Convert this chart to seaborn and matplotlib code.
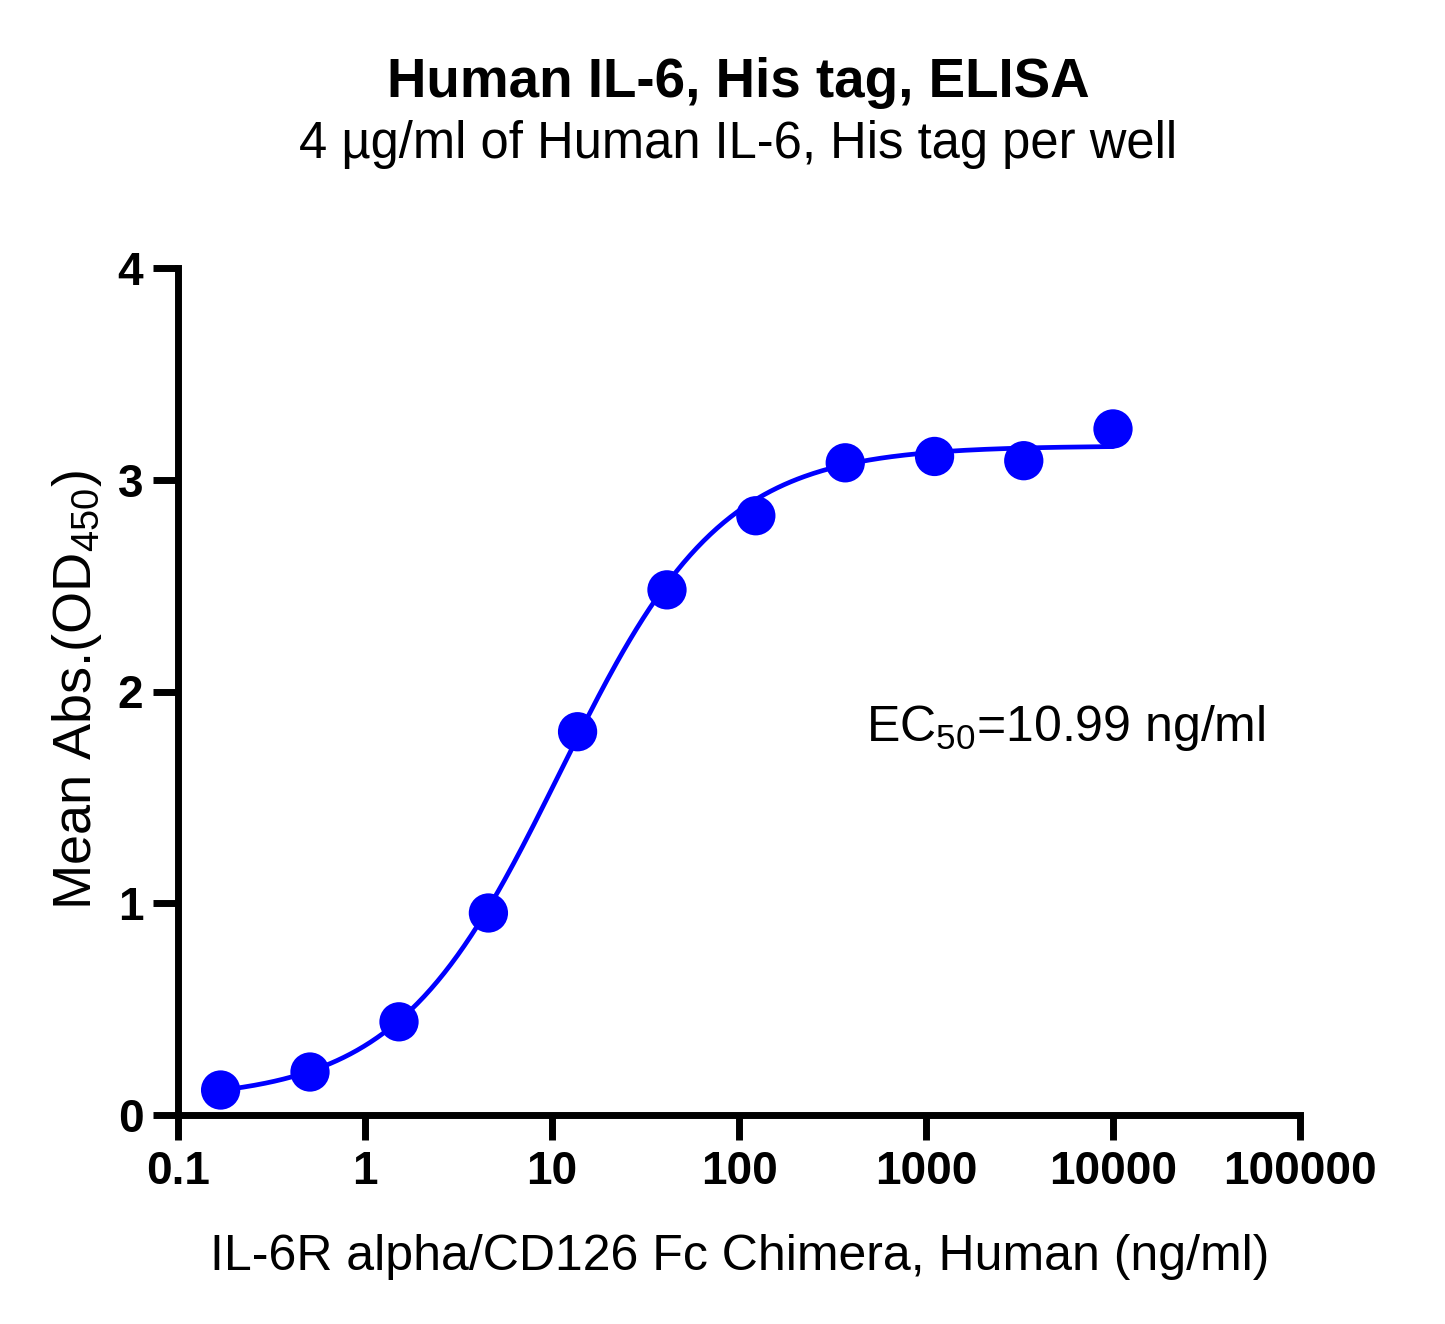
import numpy as np
import pandas as pd
import matplotlib
matplotlib.use("Agg")
import matplotlib.pyplot as plt
import seaborn as sns

# Data
concentration = [0.169, 0.508, 1.52, 4.57, 13.7, 41.2, 123, 370, 1111, 3333, 10000]
mean_abs = [0.118, 0.203, 0.44, 0.954, 1.81, 2.48, 2.83, 3.08, 3.11, 3.09, 3.24]

# 4PL fit parameters
fit_bottom = 0.07
fit_top = 3.16
fit_ec50 = 10.99
fit_hill = 1.0

x_ticks = [0.1, 1, 10, 100, 1000, 10000, 100000]
x_tick_labels = ["0.1", "1", "10", "100", "1000", "10000", "100000"]
y_ticks = [0, 1, 2, 3, 4]

title = "Human IL-6, His tag, ELISA"
subtitle = "4 µg/ml of Human IL-6, His tag per well"
xlabel = "IL-6R alpha/CD126 Fc Chimera, Human (ng/ml)"
ylabel = r"Mean Abs.(OD$_{450}$)"
ec50_text = r"EC$_{50}$=10.99 ng/ml"

sns.set_theme(style="ticks")
plt.rcParams["font.family"] = ["Liberation Sans", "DejaVu Sans"]
plt.rcParams["mathtext.fontset"] = "custom"
plt.rcParams["mathtext.rm"] = "Liberation Sans"
plt.rcParams["mathtext.it"] = "Liberation Sans:italic"
plt.rcParams["mathtext.bf"] = "Liberation Sans:bold"
plt.rcParams["text.color"] = "black"
plt.rcParams["axes.labelcolor"] = "black"
plt.rcParams["xtick.color"] = "black"
plt.rcParams["ytick.color"] = "black"
plt.rcParams["xtick.labelcolor"] = "black"
plt.rcParams["ytick.labelcolor"] = "black"

fig = plt.figure(figsize=(14.45, 13.24), dpi=100)
ax = fig.add_axes([178 / 1445, 1 - 1115 / 1324, (1300 - 178) / 1445, (1115 - 268) / 1324])

df = pd.DataFrame({"conc": concentration, "abs": mean_abs})
xfit = np.logspace(np.log10(concentration[0]), np.log10(concentration[-1]), 400)
yfit = fit_bottom + (fit_top - fit_bottom) / (1 + (fit_ec50 / xfit) ** fit_hill)
dfit = pd.DataFrame({"conc": xfit, "abs": yfit})

sns.lineplot(data=dfit, x="conc", y="abs", ax=ax, color="#0000FF", linewidth=3.4, zorder=2)
sns.scatterplot(data=df, x="conc", y="abs", ax=ax, color="#0000FF", s=800,
                edgecolor="none", linewidth=0, zorder=3, clip_on=False)

ax.set_xscale("log")
ax.set_xlim(0.1, 100000)
ax.set_ylim(0, 4)
ax.set_xticks(x_ticks)
ax.set_xticklabels(x_tick_labels)
ax.xaxis.set_minor_locator(matplotlib.ticker.NullLocator())
ax.set_yticks(y_ticks)
ax.set_yticklabels([str(v) for v in y_ticks])

for side in ["top", "right"]:
    ax.spines[side].set_visible(False)
for side in ["left", "bottom"]:
    ax.spines[side].set_linewidth(5.0)
    ax.spines[side].set_color("black")
    ax.spines[side].set_capstyle("projecting")

ax.tick_params(axis="both", which="major", direction="out", length=18, width=5.0,
               color="black", labelcolor="black", pad=7, labelsize=33)
for lab in ax.get_xticklabels() + ax.get_yticklabels():
    lab.set_fontweight("bold")

ax.set_xlabel("")
ax.set_ylabel("")
fig.text(740 / 1445, 1 - 1270 / 1324, xlabel, ha="center", va="baseline", fontsize=36)
fig.text(77 / 1445, 1 - 690 / 1324, ylabel, ha="center", va="center", rotation=90, fontsize=39)

fig.text(738 / 1445, 1 - 97 / 1324, title, ha="center", va="baseline", fontsize=39.4, fontweight="bold")
fig.text(738 / 1445, 1 - 158 / 1324, subtitle, ha="center", va="baseline", fontsize=36.5)

ax.text((866 - 178) / 1122, (1115 - 741) / 847, ec50_text, transform=ax.transAxes,
        ha="left", va="baseline", fontsize=36)

fig.savefig("out.png", dpi=100, facecolor="white")
